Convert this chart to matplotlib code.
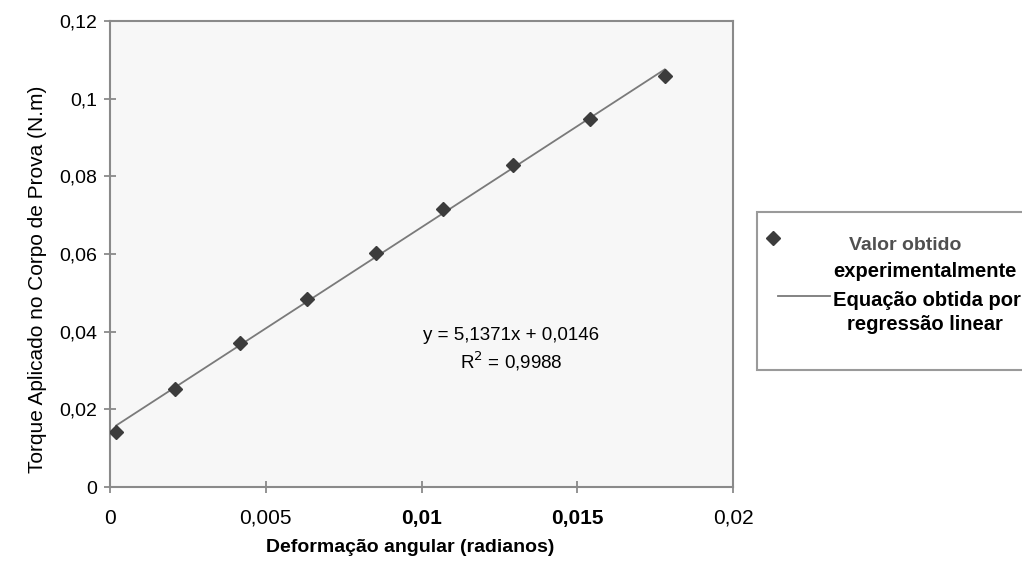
import matplotlib
matplotlib.use("Agg")
import matplotlib.pyplot as plt
import numpy as np
from matplotlib.patches import Rectangle
from matplotlib.lines import Line2D

# Data
deformacao = [0.0002, 0.0021, 0.00416, 0.00632, 0.00855, 0.01069, 0.01294, 0.01542, 0.01781]
torque = [0.0142, 0.0252, 0.0372, 0.0484, 0.0603, 0.0716, 0.0829, 0.0947, 0.1059]

x_ticks = [0, 0.005, 0.01, 0.015, 0.02]
x_tick_labels = ["0", "0,005", "0,01", "0,015", "0,02"]
y_ticks = [0, 0.02, 0.04, 0.06, 0.08, 0.1, 0.12]
y_tick_labels = ["0", "0,02", "0,04", "0,06", "0,08", "0,1", "0,12"]

eq_text = "y = 5,1371x + 0,0146"
r2_text = "R$^2$ = 0,9988"
x_label = "Deformação angular (radianos)"
y_label = "Torque Aplicado no Corpo de Prova (N.m)"
leg_lines_1 = ["Valor obtido", "experimentalmente"]
leg_lines_2 = ["Equação obtida por", "regressão linear"]

plt.rcParams['font.family'] = ['Liberation Sans', 'DejaVu Sans']
narrow = ['Liberation Sans Narrow', 'Liberation Sans', 'DejaVu Sans']

W, H = 1022, 561
fig = plt.figure(figsize=(W / 100, H / 100), dpi=100)
fig.patch.set_facecolor('white')
ax = fig.add_axes([110 / W, 1 - 487 / H, (733 - 110) / W, (487 - 21) / H])
ax.set_facecolor('#f7f7f7')

MARK_COLOR = '#3c3c3c'
LINE_COLOR = '#7a7a7a'

# regression line from the data
coef = np.polyfit(deformacao, torque, 1)
xs = np.array([min(deformacao), max(deformacao)])
ax.plot(xs, np.polyval(coef, xs), color=LINE_COLOR, lw=1.3, zorder=2)
ax.plot(deformacao, torque, linestyle='none', marker='D', markersize=7,
        color=MARK_COLOR, zorder=3)

ax.set_xlim(0, 0.02)
ax.set_ylim(0, 0.12)
ax.set_xticks(x_ticks)
ax.set_yticks(y_ticks)
ax.set_yticklabels(y_tick_labels, fontsize=14)
ax.set_xticklabels(x_tick_labels, fontsize=15)
for lbl, t in zip(ax.get_xticklabels(), x_tick_labels):
    if t in ("0,01", "0,015"):
        lbl.set_fontweight('bold')
ax.tick_params(axis='y', direction='inout', length=9, width=1.2, color='#808080', pad=5)
ax.tick_params(axis='x', direction='inout', length=9, width=1.2, color='#808080', pad=11)
for s in ax.spines.values():
    s.set_color('#8a8a8a')
    s.set_linewidth(1.5)

ax.set_xlabel(x_label, fontsize=14, fontweight='bold')
ax.xaxis.set_label_coords((410 - 110) / 623, -(548 - 487) / 466)
ax.xaxis.label.set_va('center')
ax.set_ylabel(y_label, fontsize=15)
ax.yaxis.set_label_coords((38 - 110) / 623, (487 - 279) / 466)
ax.yaxis.label.set_va('center')

ax.text((511 - 110) / 623, (487 - 335) / 466, eq_text, transform=ax.transAxes,
        ha='center', va='center', fontsize=13.5, family=narrow)
ax.text((511 - 110) / 623, (487 - 361) / 466, r2_text, transform=ax.transAxes,
        ha='center', va='center', fontsize=13.5, family=narrow)

# legend (frame, keys and text)
fig.patches.append(Rectangle((757 / W, 1 - 370 / H), (W - 757) / W + 0.01, (370 - 212) / H,
                             transform=fig.transFigure, facecolor='white',
                             edgecolor='#9a9a9a', lw=1.5, zorder=0))
fig.add_artist(Line2D([773 / W], [1 - 238 / H], linestyle='none', marker='D', markersize=7,
                      color=MARK_COLOR, transform=fig.transFigure))
fig.add_artist(Line2D([778 / W, 830 / W], [1 - 296 / H, 1 - 296 / H], color=LINE_COLOR,
                      lw=1.3, transform=fig.transFigure))
fig.text(905 / W, 1 - 245 / H, leg_lines_1[0], ha='center', va='center', fontsize=14,
         fontweight='bold', color='#505050')
fig.text(925 / W, 1 - 271 / H, leg_lines_1[1], ha='center', va='center', fontsize=14.5,
         fontweight='bold', color='black')
fig.text(927 / W, 1 - 300 / H, leg_lines_2[0], ha='center', va='center', fontsize=14.5,
         fontweight='bold', color='black')
fig.text(925 / W, 1 - 325 / H, leg_lines_2[1], ha='center', va='center', fontsize=14.5,
         fontweight='bold', color='black')

fig.savefig('out.png', dpi=100)
